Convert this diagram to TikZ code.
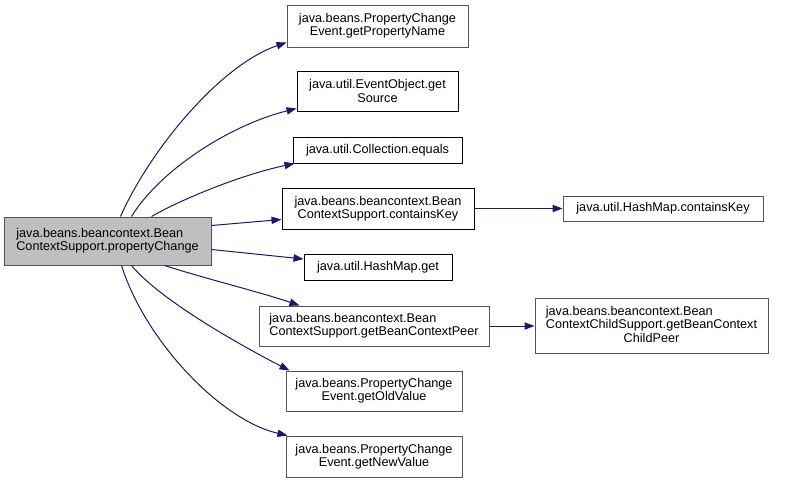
\documentclass[tikz,border=0pt]{standalone}
\usepackage{fontspec}
\setmainfont{Liberation Sans}
\usetikzlibrary{arrows.meta,calc}
\definecolor{edgeblue}{HTML}{191970}
\definecolor{bordergray}{HTML}{555555}
\definecolor{mainfill}{HTML}{BFBFBF}
\begin{document}
\begin{tikzpicture}[x=0.75pt,y=-0.75pt,
  box/.style={draw=black,line width=0.75pt,rectangle,inner sep=0pt,align=center,
    font=\fontsize{9.5pt}{10pt}\selectfont,fill=white},
  gbox/.style={box,draw=bordergray},
  call/.style={draw=edgeblue,line width=0.75pt,-{Triangle[length=7.5pt,width=5.5pt]}}]
\useasboundingbox (0,0) rectangle (788,483);
\node[gbox,fill=mainfill,minimum width=207*0.75pt,minimum height=48*0.75pt,align=left] (main) at (107.5,241)
  {java.beans.beancontext.Bean\\ContextSupport.propertyChange};
\node[gbox,minimum width=181*0.75pt,minimum height=42*0.75pt] (n1) at (377.5,26)
  {java.beans.PropertyChange\\Event.getPropertyName};
\node[box,minimum width=161*0.75pt,minimum height=40*0.75pt] (n2) at (377.5,91)
  {java.util.EventObject.get\\Source};
\node[box,minimum width=169*0.75pt,minimum height=26*0.75pt] (n3) at (377.5,150)
  {java.util.Collection.equals};
\node[box,minimum width=192*0.75pt,minimum height=41*0.75pt] (n4) at (378,208.5)
  {java.beans.beancontext.Bean\\ContextSupport.containsKey};
\node[box,minimum width=148*0.75pt,minimum height=26*0.75pt] (n5) at (378,267)
  {java.util.HashMap.get};
\node[gbox,minimum width=230*0.75pt,minimum height=40*0.75pt,align=left] (n6) at (374,326)
  {java.beans.beancontext.Bean\\ContextSupport.getBeanContextPeer};
\node[gbox,minimum width=176*0.75pt,minimum height=40*0.75pt] (n7) at (374,391)
  {java.beans.PropertyChange\\Event.getOldValue};
\node[gbox,minimum width=176*0.75pt,minimum height=41*0.75pt] (n8) at (374,456.5)
  {java.beans.PropertyChange\\Event.getNewValue};
\node[gbox,minimum width=200*0.75pt,minimum height=25*0.75pt] (n9) at (663,208.5)
  {java.util.HashMap.containsKey};
\node[gbox,minimum width=233*0.75pt,minimum height=55*0.75pt] (n10) at (651.5,326)
  {\begin{tabular}{@{}l@{}}java.beans.beancontext.Bean\\ContextChildSupport.getBeanContext\\\multicolumn{1}{@{}c@{}}{ChildPeer}\end{tabular}};
% edges
\draw[call] ($(main.north west)+(117,0)$) .. controls (150,150) and (220,65) .. ($(n1.south west)+(0,-5)$);
\draw[call] ($(main.north west)+(128,0)$) .. controls (160,170) and (230,125) .. ($(n2.south west)+(0,-3)$);
\draw[call] ($(main.north west)+(148,0)$) .. controls (180,200) and (240,175) .. ($(n3.south west)+(2,0)$);
\draw[call] ($(main.north east)+(0,9)$) -- ($(n4.west)+(0,11)$);
\draw[call] ($(main.south east)+(0,-16)$) -- ($(n5.west)+(0,-8)$);
\draw[call] ($(main.south west)+(161,0)$) .. controls (210,280) and (260,292) .. ($(n6.north west)+(41,0)$);
\draw[call] ($(main.south west)+(128,0)$) .. controls (160,300) and (240,345) .. ($(n7.north west)+(4,0)$);
\draw[call] ($(main.south west)+(118,0)$) .. controls (145,340) and (220,420) .. ($(n8.north west)+(2,0)$);
\draw[call] (n4.east) -- (n9.west);
\draw[call] (n6.east) -- (n10.west);
\end{tikzpicture}
\end{document}
